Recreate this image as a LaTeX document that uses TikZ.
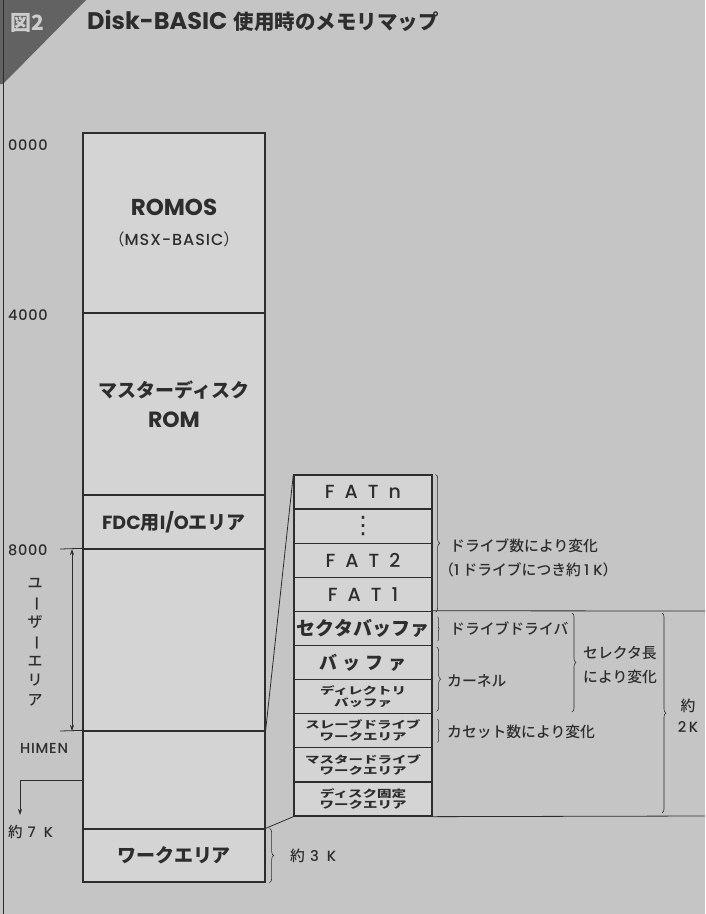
\documentclass[tikz,border=0pt]{standalone}
\usepackage{fontspec}
\setmainfont{Noto Sans CJK JP}
\newfontfamily\latfont[UprightFont={Poppins Medium}, BoldFont={Poppins Bold}]{Poppins}
\newfontfamily\notefont{Noto Sans CJK JP Medium}
\newfontfamily\widefont[FakeStretch=1.45]{Noto Sans CJK JP}
\newfontfamily\symfont{DejaVu Sans}
\usetikzlibrary{arrows.meta,decorations.pathreplacing}
\definecolor{paper}{RGB}{197,197,197}
\definecolor{cellfill}{RGB}{212,212,212}
\definecolor{ink}{RGB}{45,45,45}
\definecolor{badgegray}{RGB}{98,98,98}
\definecolor{badgetext}{RGB}{205,205,205}
\newcommand{\fsz}[2]{\fontsize{#1}{#2}\selectfont}
\tikzset{
  memblock/.style={draw=ink, line width=1.3pt, fill=cellfill, minimum width=182pt, inner sep=0pt, align=center, text=ink, font=\bfseries\fsz{19}{30}},
  subblock/.style={draw=ink, line width=1.3pt, fill=cellfill, minimum width=138pt, minimum height=34.1pt, inner sep=0pt, align=center, text=ink, font=\bfseries\fsz{19}{22}},
  fatblock/.style={subblock, font=\latfont\fsz{19}{22}},
  smalltext/.style={font=\widefont\bfseries\fsz{10}{11.5}},
  addrlabel/.style={anchor=west, inner sep=0pt, text=ink, font=\latfont\addfontfeatures{LetterSpace=5}\fsz{14.5}{17}},
  notelabel/.style={anchor=west, inner sep=0pt, text=ink, align=left, font=\notefont\fsz{14.8}{24}},
  leader/.style={draw=ink, line width=0.8pt},
  curly/.style={draw=ink, line width=0.6pt, decorate, decoration={brace, amplitude=#1}},
  curly/.default=4pt,
}
\begin{document}
\begin{tikzpicture}[x=1pt,y=-1pt]
\useasboundingbox (0,0) rectangle (705,914);
\fill[paper] (0,0) rectangle (705,914);
\fill[badgegray] (0,0) -- (86,0) -- (3,84) -- (0,84) -- cycle;
\draw[ink, line width=1pt] (3,0) -- (3,914);
\node[text=badgetext, font=\bfseries\fsz{21}{22}, inner sep=0pt] (badge) at (27,23) {図2};
\node[anchor=west, inner sep=0pt, text=ink, font=\bfseries\fsz{20.5}{24}] (title) at (87,21) {{\latfont\fsz{24}{28}Disk-BASIC}\hspace{6pt}使用時のメモリマップ};

\node[memblock, minimum height=180pt] (romos) at (174,223) {{\latfont\fsz{23}{30}ROMOS}\\{\mdseries\fsz{16}{18}（{\latfont\addfontfeatures{LetterSpace=6}MSX-BASIC}）}};
\node[memblock, minimum height=182pt] (mrom) at (174,404) {マスターディスク\\{\latfont\fsz{22}{30}ROM}};
\node[memblock, minimum height=54pt] (fdc) at (174,522) {{\latfont FDC}用{\latfont I/O}エリア};
\node[memblock, minimum height=182pt] (user) at (174,640) {};
\node[memblock, minimum height=98pt] (sys) at (174,780) {};
\node[memblock, minimum height=53pt] (work) at (174,855.5) {ワークエリア};

\node[fatblock] (fatn) at (363,492.05) {F\hspace{10pt}A\hspace{10pt}T\hspace{10pt}n};
\node[subblock] (fatdots) at (363,526.15) {{\mdseries\symfont\fsz{24}{24}⋮}};
\node[fatblock] (fat2) at (363,560.25) {F\hspace{10pt}A\hspace{10pt}T\hspace{10pt}2};
\node[fatblock] (fat1) at (363,594.35) {F\hspace{10pt}A\hspace{10pt}T\hspace{10pt}1};
\node[subblock] (secbuf) at (363,628.45) {セクタバッファ};
\node[subblock, font=\bfseries\fsz{18}{22}] (buf) at (363,662.55) {バ\hspace{5pt}ッ\hspace{5pt}フ\hspace{5pt}ァ};
\node[subblock, smalltext] (dirbuf) at (363,696.65) {ディレクトリ\\バッファ};
\node[subblock, smalltext] (slave) at (363,730.75) {スレーブドライブ\\ワークエリア};
\node[subblock, smalltext] (master) at (363,764.85) {マスタードライブ\\ワークエリア};
\node[subblock, smalltext] (diskfix) at (363,798.95) {ディスク固定\\ワークエリア};

\draw[leader] (sys.north east) -- (fatn.north west);
\draw[leader] (work.north east) -- (diskfix.south west);
\coordinate (edgetop) at (705,611);
\coordinate (edgebot) at (705,816);
\draw[leader] (secbuf.north east) -- (edgetop);
\draw[leader] (diskfix.south east) -- (edgebot);

\coordinate (tick8000) at (60,549);
\coordinate (tickhimen) at (60,731);
\draw[leader] (tick8000) -- (user.north west);
\draw[leader] (tickhimen) -- (sys.north west);
\coordinate (usertop) at (72,549);
\coordinate (userbot) at (72,731);
\draw[leader, {Stealth[length=6pt,width=4pt]}-{Stealth[length=6pt,width=4pt]}] (usertop) -- (userbot);
\coordinate (sysbend) at (20,780);
\coordinate (sysdown) at (20,815);
\draw[leader, -{Stealth[length=6pt,width=4pt]}] (sys.west) -- (sysbend) -- (sysdown);

\node[addrlabel] (a0000) at (8,145) {0000};
\node[addrlabel] (a4000) at (8,315) {4000};
\node[addrlabel] (a8000) at (8,550) {8000};
\node[addrlabel] (ahimen) at (20,748) {HIMEN};
\node[addrlabel] (aseven) at (8,832) {{\notefont 約}\hspace{5pt}7\hspace{8pt}K};
\node[font=\notefont\fsz{15}{19.5}, inner sep=0pt, text=ink, align=center] (userlbl) at (35,642) {ユ\\\rotatebox[origin=c]{-90}{ー}\\ザ\\\rotatebox[origin=c]{-90}{ー}\\エ\\リ\\ア};

\draw[curly] ([xshift=3pt]fatn.north east) -- ([xshift=3pt]fat1.south east);
\draw[curly=1.5pt] ([xshift=5pt,yshift=-6pt]secbuf.north east) -- ([xshift=5pt,yshift=5pt]secbuf.south east);
\draw[curly] ([xshift=4pt,yshift=-2pt]buf.north east) -- ([xshift=4pt,yshift=3pt]dirbuf.south east);
\draw[curly] (572,613) -- (572,712);
\draw[curly=1.5pt] ([xshift=5pt,yshift=-6pt]slave.north east) -- ([xshift=5pt,yshift=6pt]slave.south east);
\draw[curly] (662,613) -- (662,813);
\draw[curly] ([xshift=4pt]work.north east) -- ([xshift=4pt]work.south east);

\node[notelabel] (fatnote) at (450,546) {ドライブ数により変化};
\node[notelabel] (fatnote2) at (439,570) {（{\latfont 1} ドライブにつき約 {\latfont 1 K}）};
\node[notelabel] (drvnote) at (450,628) {ドライブドライバ};
\node[notelabel] (kernote) at (447,681) {カーネル};
\node[notelabel] (secnote) at (583,665) {セレクタ長\\により変化};
\node[notelabel] (casnote) at (447,732) {カセット数により変化};
\node[notelabel, align=center, anchor=center, font=\notefont\fsz{14.8}{21}] (sizenote) at (688,716) {約\\{\latfont 2\,K}};
\node[notelabel] (worknote) at (290,856) {約\hspace{5pt}{\latfont 3\hspace{8pt}K}};
\end{tikzpicture}
\end{document}
